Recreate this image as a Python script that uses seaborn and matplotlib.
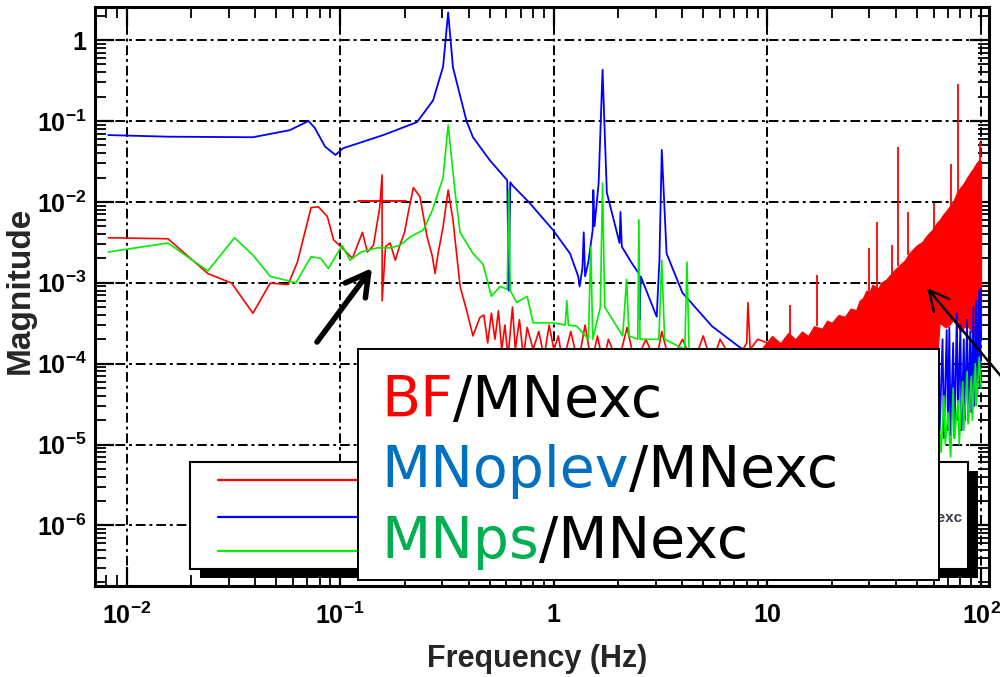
import numpy as np
import matplotlib
matplotlib.use("Agg")
import matplotlib.pyplot as plt
import seaborn as sns
from matplotlib.patches import Rectangle
from matplotlib.lines import Line2D
from matplotlib.text import Annotation
from matplotlib.ticker import LogLocator, NullFormatter

# ---------------- data ----------------
bf_points = [
    (0.0082, 3.6e-3), (0.0156, 3.5e-3), (0.024, 1.3e-3), (0.031, 9.9e-4), (0.039, 4.2e-4),
    (0.047, 9.9e-4), (0.057, 9.5e-4), (0.063, 1.8e-3), (0.073, 8.5e-3), (0.079, 8.7e-3),
    (0.087, 6.6e-3), (0.093, 3.4e-3), (0.102, 2.7e-3), (0.114, 2.0e-3), (0.127, 4.2e-3),
    (0.134, 2.4e-3), (0.143, 2.9e-3), (0.153, 8.5e-3), (0.157, 2.15e-2), (0.157, 6.0e-4),
    (0.163, 2.8e-3), (0.171, 3.1e-3), (0.181, 1.9e-3), (0.19, 2.9e-3), (0.20, 4.2e-3),
    (0.208, 7.3e-3), (0.22, 1.5e-2), (0.236, 1.16e-2), (0.255, 3.7e-3), (0.27, 2.1e-3),
    (0.278, 1.3e-3), (0.287, 2.3e-3), (0.303, 4.9e-3), (0.32, 1.4e-2), (0.337, 6.0e-3),
    (0.364, 9.0e-4), (0.39, 4.6e-4), (0.418, 2.2e-4), (0.45, 3.7e-4), (0.47, 4.0e-4),
    (0.49, 1.8e-4), (0.51, 4.2e-4), (0.53, 2.0e-4), (0.55, 4.5e-4), (0.57, 1.5e-4),
    (0.59, 3.0e-4), (0.61, 1.2e-4), (0.64, 5.0e-4), (0.66, 1.5e-4), (0.69, 3.5e-4),
    (0.72, 1.2e-4), (0.75, 2.8e-4), (0.80, 1.5e-4), (0.85, 2.5e-4), (0.90, 1.2e-4),
    (0.95, 3.0e-4), (1.0, 1.5e-4), (1.05, 2.2e-4), (1.1, 1.0e-4), (1.2, 2.5e-4),
    (1.3, 1.0e-4), (1.4, 3.0e-4), (1.5, 1.0e-4), (1.6, 2.2e-4), (1.7, 1.0e-4),
    (1.8, 2.0e-4), (2.0, 1.0e-4), (2.2, 2.8e-4), (2.4, 1.0e-4), (2.7, 2.0e-4),
    (3.0, 1.0e-4), (3.2, 2.5e-4), (3.5, 1.0e-4), (4.0, 2.0e-4), (4.5, 1.0e-4),
    (5.0, 2.2e-4), (5.5, 1.0e-4), (6.0, 2.0e-4), (7.0, 1.0e-4), (8.0, 1.8e-4),
    (8.1, 5.7e-4), (8.3, 1.5e-4), (9.0, 2.0e-4), (10.0, 1.8e-4),
]
bf_cursor_freq = [0.121, 0.204]
bf_cursor_mag = [1.02e-2, 1.02e-2]

bf_hf_freq = [9.5, 10.5, 11.5, 12.5, 13.5, 14.5, 15.5, 16.5, 18, 19, 20, 21.5, 23, 24.5,
              26, 27, 28, 29, 30, 31, 33, 34, 36, 38, 40, 42, 44, 46, 48, 50, 53, 56,
              59, 62, 64, 66, 68, 71, 74, 77, 80, 83, 86, 89, 92, 95, 98, 100]
bf_hf_upper = [1.6e-4, 2.2e-4, 1.8e-4, 2.4e-4, 2.0e-4, 2.5e-4, 2.2e-4, 2.9e-4, 2.7e-4,
               3.4e-4, 3.2e-4, 4.0e-4, 3.8e-4, 4.8e-4, 4.6e-4, 6.0e-4, 6.5e-4, 8.0e-4,
               7.5e-4, 9.5e-4, 8.5e-4, 1.0e-3, 1.1e-3, 1.3e-3, 1.5e-3, 1.7e-3, 1.9e-3,
               2.3e-3, 2.6e-3, 2.9e-3, 3.2e-3, 3.9e-3, 4.5e-3, 5.5e-3, 6.0e-3, 6.8e-3,
               7.5e-3, 8.7e-3, 1.0e-2, 1.3e-2, 1.5e-2, 1.7e-2, 2.0e-2, 2.3e-2, 2.6e-2,
               3.0e-2, 3.3e-2, 3.0e-2]
bf_hf_lower = [1.0e-4, 1.0e-4, 1.0e-4, 1.0e-4, 1.0e-4, 1.0e-4, 1.0e-4, 1.0e-4, 1.0e-4,
               1.0e-4, 1.0e-4, 1.0e-4, 1.0e-4, 1.0e-4, 1.0e-4, 1.0e-4, 1.0e-4, 1.0e-4,
               1.0e-4, 1.0e-4, 1.0e-4, 1.0e-4, 1.0e-4, 1.0e-4, 1.0e-4, 1.0e-4, 1.0e-4,
               1.0e-4, 1.0e-4, 1.0e-4, 1.0e-4, 1.0e-4, 1.0e-4, 1.0e-4, 3.2e-4, 3.0e-4,
               2.8e-4, 3.0e-4, 3.5e-4, 3.0e-4, 2.5e-4, 2.8e-4, 3.0e-4, 2.6e-4, 2.2e-4,
               2.4e-4, 2.5e-4, 2.5e-4]
bf_spike_freq = [12.7, 17.0, 30.0, 32.6, 38.4, 41.0, 45.5, 60.0, 72.0, 78.0, 99.0]
bf_spike_top = [5.3e-4, 1.25e-3, 2.7e-3, 5.7e-3, 2.9e-3, 4.8e-2, 7.5e-3, 9.7e-3, 2.9e-2, 0.29, 5.5e-2]
bf_spike_base = [2.2e-4, 2.9e-4, 7.5e-4, 8.5e-4, 1.3e-3, 1.6e-3, 2.2e-3, 4.5e-3, 8.7e-3, 1.3e-2, 3.0e-2]

oplev_points = [
    (0.0082, 0.067), (0.0156, 0.064), (0.039, 0.063), (0.058, 0.077), (0.071, 0.100),
    (0.076, 0.082), (0.085, 0.048), (0.095, 0.038), (0.103, 0.046), (0.159, 0.067),
    (0.229, 0.097), (0.272, 0.18), (0.303, 0.47), (0.32, 2.2), (0.337, 0.46),
    (0.39, 0.10), (0.418, 0.063), (0.50, 0.033), (0.605, 0.0185), (0.615, 0.0008),
    (0.625, 0.0175), (0.64, 0.016), (0.77, 0.0097), (0.99, 0.0045), (1.19, 0.0023),
    (1.30, 0.0012), (1.32, 0.0009), (1.36, 0.0015), (1.38, 0.0042), (1.40, 0.0012),
    (1.45, 0.0018), (1.52, 0.0045), (1.53, 0.014), (1.55, 0.005), (1.62, 0.017),
    (1.69, 0.43), (1.77, 0.013), (2.03, 0.0031), (2.05, 0.0075), (2.08, 0.0028),
    (2.3, 0.0018), (2.5, 0.0013), (2.52, 0.00035), (2.55, 0.0012), (3.03, 0.00038),
    (3.12, 0.0019), (3.2, 0.044), (3.37, 0.0023), (4.0, 0.00075), (5.5, 0.00029),
    (7.4, 0.00016), (10, 1.0e-4), (20, 4e-5), (40, 2e-5), (62, 1.5e-5),
    (63, 1.2e-4), (64, 1.5e-5), (66, 2.0e-4), (67, 1.2e-5), (69, 2.6e-4), (70, 1.5e-5),
    (71, 2.8e-4), (72, 1.3e-5), (74, 1.8e-4), (75, 1.2e-5), (77, 4.2e-4), (78, 2.0e-5),
    (80, 3.0e-4), (81, 1.5e-5), (83, 2.0e-4), (84, 2.0e-5), (86, 3.5e-4), (87, 2.0e-5),
    (89, 2.5e-4), (90, 2.5e-5), (92, 5.0e-4), (93, 3.0e-5), (95, 6.0e-4), (96, 4.0e-5),
    (98, 8.0e-4), (99, 5.0e-5), (100, 8.5e-4),
]

ps_points = [
    (0.0082, 0.0024), (0.0156, 0.0031), (0.024, 0.0014), (0.032, 0.0036), (0.039, 0.0022),
    (0.047, 0.0012), (0.062, 0.0010), (0.073, 0.0021), (0.081, 0.0020), (0.088, 0.0015),
    (0.102, 0.0029), (0.111, 0.0019), (0.125, 0.0024), (0.149, 0.0027), (0.171, 0.0027),
    (0.19, 0.0029), (0.213, 0.0037), (0.245, 0.0045), (0.27, 0.0079), (0.303, 0.020),
    (0.32, 0.089), (0.345, 0.013), (0.364, 0.0042), (0.418, 0.0023), (0.466, 0.0017),
    (0.51, 0.00068), (0.56, 0.0009), (0.605, 0.00083), (0.615, 0.014), (0.625, 0.0008),
    (0.67, 0.00057), (0.75, 0.00068), (0.80, 0.00032), (0.99, 0.00032), (1.13, 0.0003),
    (1.15, 0.0006), (1.17, 0.0003), (1.28, 0.00029), (1.45, 0.0002), (1.49, 0.0028),
    (1.52, 0.0002), (1.65, 0.0005), (1.69, 0.017), (1.73, 0.0005), (2.1, 0.00022),
    (2.19, 0.0011), (2.25, 0.00022), (2.47, 0.0002), (2.5, 0.006), (2.53, 0.0002),
    (3.1, 0.0002), (3.2, 0.0019), (3.3, 0.0002), (4.1, 0.00015), (4.2, 0.0018),
    (4.3, 0.00012), (10, 5e-5), (30, 2e-5), (62, 6e-6),
    (63, 3e-5), (65, 8e-6), (67, 4e-5), (68, 1e-5), (70, 2.5e-5), (72, 7e-6),
    (74, 5e-5), (75, 1.2e-5), (78, 3.5e-5), (79, 1e-5), (82, 6e-5), (83, 1.5e-5),
    (86, 8e-5), (87, 1.8e-5), (90, 7e-5), (91, 2e-5), (94, 1e-4), (95, 3e-5),
    (98, 1.2e-4), (100, 5e-5),
]

x_ticks = [0.01, 0.1, 1, 10, 100]
x_ticklabels = [r"$10^{-2}$", r"$10^{-1}$", "1", "10", r"$10^{2}$"]
y_ticks = [1, 1e-1, 1e-2, 1e-3, 1e-4, 1e-5, 1e-6]
y_ticklabels = ["1", r"$10^{-1}$", r"$10^{-2}$", r"$10^{-3}$", r"$10^{-4}$", r"$10^{-5}$", r"$10^{-6}$"]

legend_labels = ["BF/MNexc", "MNoplev/MNexc", "MNps/MNexc"]
RED, BLUE, GREEN = "#ff0000", "#0000ff", "#00ee00"

# ---------------- style ----------------
sns.set_style("ticks")
plt.rcParams["font.family"] = ["Liberation Sans", "DejaVu Sans"]
plt.rcParams["mathtext.fontset"] = "custom"
plt.rcParams["mathtext.rm"] = "Liberation Sans:bold"
plt.rcParams["mathtext.it"] = "Liberation Sans:bold"
plt.rcParams["mathtext.bf"] = "Liberation Sans:bold"
plt.rcParams["mathtext.default"] = "rm"

fig = plt.figure(figsize=(10, 6.77), dpi=100)
ax = fig.add_axes([0.095, 0.1344, 0.894, 0.8553])
ax.set_xscale("log")
ax.set_yscale("log")
ax.set_xlim(0.00711, 108.9)
ax.set_ylim(1.78e-7, 2.57)

bf_f, bf_m = zip(*bf_points)
op_f, op_m = zip(*oplev_points)
ps_f, ps_m = zip(*ps_points)

sns.lineplot(x=list(bf_f), y=list(bf_m), ax=ax, color=RED, lw=1.2, sort=False, estimator=None)
sns.lineplot(x=bf_cursor_freq, y=bf_cursor_mag, ax=ax, color=RED, lw=1.4, sort=False, estimator=None)
ax.fill_between(bf_hf_freq, bf_hf_lower, bf_hf_upper, color=RED, lw=0.8, zorder=2)
ax.vlines(bf_spike_freq, bf_spike_base, bf_spike_top, color=RED, lw=1.3, zorder=2)
sns.lineplot(x=list(op_f), y=list(op_m), ax=ax, color=BLUE, lw=1.3, sort=False, estimator=None)
sns.lineplot(x=list(ps_f), y=list(ps_m), ax=ax, color=GREEN, lw=1.2, sort=False, estimator=None)

ax.set_xlim(0.00711, 108.9)
ax.set_ylim(1.78e-7, 2.57)

# grid
ax.set_axisbelow(True)
ax.grid(True, which="major", color="black", linestyle=(0, (5, 2, 1.5, 2)), linewidth=1.4)
ax.grid(False, which="minor")

# ticks
ax.set_xticks(x_ticks, labels=x_ticklabels, fontsize=18, fontweight="bold")
ax.set_yticks(y_ticks, labels=y_ticklabels, fontsize=18, fontweight="bold")
ax.xaxis.set_minor_locator(LogLocator(base=10, subs=np.arange(2, 10), numticks=40))
ax.yaxis.set_minor_locator(LogLocator(base=10, subs=np.arange(2, 10), numticks=40))
ax.xaxis.set_minor_formatter(NullFormatter())
ax.yaxis.set_minor_formatter(NullFormatter())
ax.tick_params(which="major", direction="in", length=14, width=1.6, top=True, right=True, colors="black")
ax.tick_params(which="minor", direction="in", length=8, width=1.3, top=True, right=True, colors="black")
ax.tick_params(axis="x", which="major", pad=12)
ax.tick_params(axis="y", which="major", pad=6)
for s in ax.spines.values():
    s.set_linewidth(2.2)
    s.set_color("black")

ax.set_xlabel("Frequency (Hz)", fontsize=22, fontweight="bold")
ax.xaxis.set_label_coords(0.494, -0.10)
ax.set_ylabel("Magnitude", fontsize=24, fontweight="bold")
ax.yaxis.set_label_coords(-0.066, 0.51)

# original legend (mostly hidden)
lx, ly, lw_, lh = 0.106, 0.0294, 0.8705, 0.1846
ax.add_patch(Rectangle((lx + 0.0112, ly - 0.0155), lw_, lh, transform=ax.transAxes,
                       facecolor="black", edgecolor="none", zorder=5))
ax.add_patch(Rectangle((lx, ly), lw_, lh, transform=ax.transAxes,
                       facecolor="white", edgecolor="black", lw=1.5, zorder=5.1))
for yy, col in zip([0.183, 0.119, 0.0605], [RED, BLUE, GREEN]):
    ax.add_line(Line2D([0.1376, 0.33], [yy, yy], color=col, lw=1.6, transform=ax.transAxes, zorder=5.2))
ax.text(0.970, 0.117, legend_labels[1], transform=ax.transAxes, ha="right", va="center",
        fontsize=11, fontweight="bold", color="#3a3a4a", zorder=5.3)

# overlay box with coloured labels
ax2 = fig.add_axes([0.358, 0.1433, 0.581, 0.3412], zorder=10)
ax2.set_facecolor("white")
ax2.set_xticks([])
ax2.set_yticks([])
for s in ax2.spines.values():
    s.set_linewidth(1.4)
    s.set_color("black")

rows = [
    [("BF", "#ff0000"), ("/MNexc", "black")],
    [("MNoplev", "#0070C0"), ("/MNexc", "black")],
    [("MNps", "#00B050"), ("/MNexc", "black")],
]
for yb, parts in zip([0.7056, 0.4026, 0.0952], rows):
    t = ax2.text(0.0396, yb, parts[0][0], color=parts[0][1], transform=ax2.transAxes,
                 fontsize=41, family="DejaVu Sans", va="baseline")
    for txt, col in parts[1:]:
        t = ax2.annotate(txt, xy=(1, 0), xycoords=t, va="bottom", ha="left", color=col,
                         fontsize=41, family="DejaVu Sans")

# arrows
H = 677
fig.add_artist(Annotation("", xy=(372, H - 268), xytext=(317, H - 342),
                          xycoords="figure pixels", textcoords="figure pixels",
                          arrowprops=dict(arrowstyle="->,head_length=0.8,head_width=0.45",
                                          mutation_scale=20, lw=4, color="black",
                                          shrinkA=0, shrinkB=0), zorder=20))
fig.add_artist(Annotation("", xy=(927, H - 288), xytext=(1005, H - 381),
                          xycoords="figure pixels", textcoords="figure pixels",
                          arrowprops=dict(arrowstyle="->,head_length=0.8,head_width=0.4",
                                          mutation_scale=18, lw=1.8, color="black",
                                          shrinkA=0, shrinkB=0), zorder=20))

fig.savefig("out.png", dpi=100)
